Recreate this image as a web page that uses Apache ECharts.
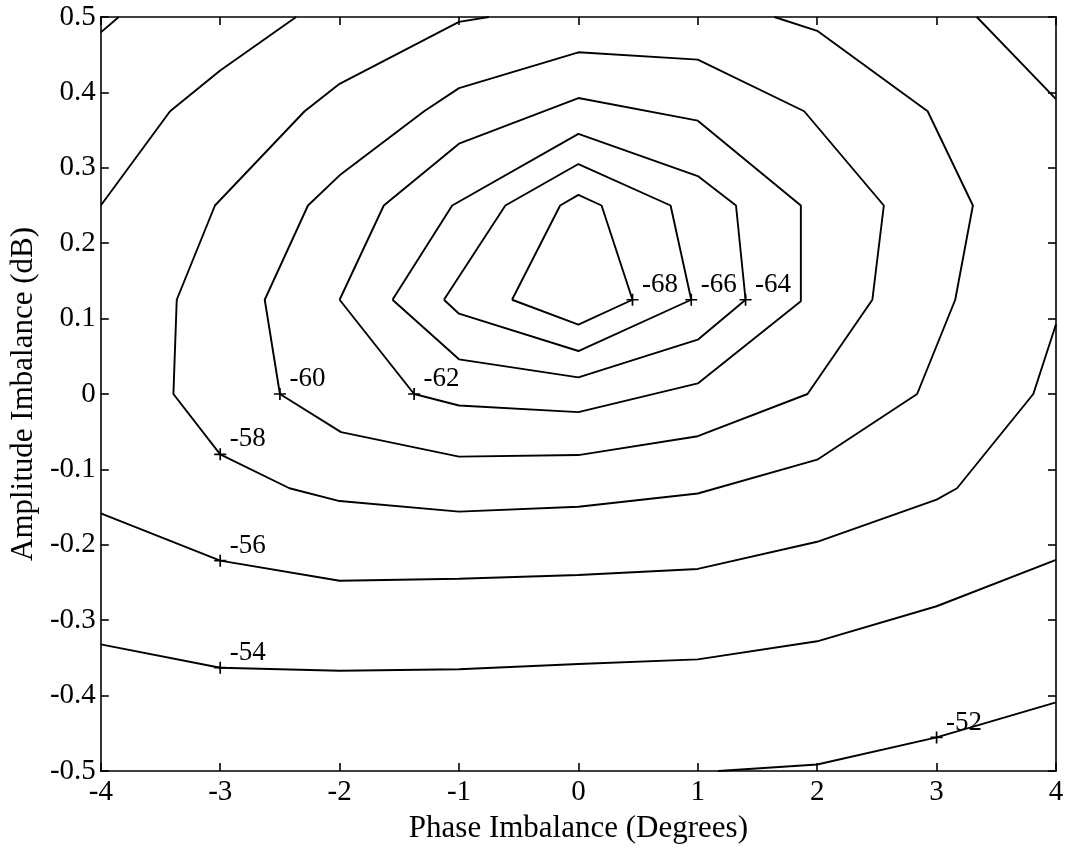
<!DOCTYPE html>
<html>
<head>
<meta charset="utf-8">
<script src="https://cdn.jsdelivr.net/npm/echarts@6/dist/echarts.min.js"></script>
<style>
  html, body { margin: 0; padding: 0; background: #fff; }
  #chart { width: 1068px; height: 849px; }
</style>
</head>
<body>
<div id="chart"></div>
<script>
// Axis ranges and tick spacing
const phaseRange = [-4, 4];
const phaseStep = 1;
const ampRange = [-0.5, 0.5];
const ampStep = 0.1;

// Contour paths, [phase (deg), amplitude (dB)] vertices, one array per connected line
const c68 = [[-0.556, 0.125], [-0.153, 0.25], [0, 0.264], [0.194, 0.25], [0.453, 0.125], [0, 0.092], [-0.556, 0.125]];
const c66 = [[-1.126, 0.125], [-0.612, 0.25], [0, 0.305], [0.772, 0.25], [0.945, 0.125], [0, 0.057], [-1, 0.1065], [-1.126, 0.125]];
const c64 = [[-1.557, 0.125], [-1.057, 0.25], [0, 0.345], [1, 0.289], [1.32, 0.25], [1.40, 0.125], [1, 0.072], [0, 0.022], [-1, 0.046], [-1.557, 0.125]];
const c62 = [[-2, 0.125], [-1.63, 0.25], [-1, 0.332], [0, 0.3925], [1, 0.3625], [1.863, 0.25], [1.863, 0.123], [1, 0.014], [0, -0.024], [-1, -0.0153], [-1.376, 0], [-2, 0.125]];
const c60 = [[-2.5, 0], [-2.627, 0.125], [-2.265, 0.25], [-2, 0.29], [-1.292, 0.375], [-1, 0.4057], [0, 0.4532], [1, 0.4435], [1.891, 0.375], [2.558, 0.25], [2.462, 0.125], [1.919, 0], [1, -0.056], [0, -0.081], [-1, -0.083], [-1.988, -0.0505], [-2.5, 0]];
const c58 = [[-0.75, 0.5], [-1, 0.4936], [-2, 0.4114], [-2.293, 0.375], [-3.044, 0.25], [-3.364, 0.125], [-3.392, 0], [-3, -0.08], [-2.42, -0.125], [-2, -0.142], [-1, -0.156], [0, -0.1495], [1, -0.132], [2, -0.0871], [2.837, 0], [3.156, 0.125], [3.304, 0.25], [2.925, 0.375], [2, 0.4817], [1.641, 0.5]];
const c56TopLeft = [[-4, 0.25], [-3.42, 0.375], [-3, 0.429], [-2.364, 0.5]];
const c56TopRight = [[3.337, 0.5], [4, 0.391]];
const c56Bottom = [[-4, -0.1584], [-3, -0.221], [-2, -0.2476], [-1, -0.245], [0, -0.24], [1, -0.232], [2, -0.196], [3, -0.14], [3.171, -0.125], [3.81, 0], [4, 0.0924]];
const c54Corner = [[-4, 0.4796], [-3.85, 0.5]];
const c54Bottom = [[-4, -0.332], [-3, -0.363], [-2, -0.367], [-1, -0.365], [0, -0.358], [1, -0.352], [2, -0.328], [3, -0.2815], [4, -0.2199]];
const c52 = [[1.17, -0.5], [2, -0.4914], [3, -0.4555], [4, -0.409]];

// Contour levels (dB) and the lines belonging to each
const levels = [-68, -66, -64, -62, -60, -58, -56, -54, -52];
const levelPaths = [[c68], [c66], [c64], [c62], [c60], [c58], [c56TopLeft, c56TopRight, c56Bottom], [c54Corner, c54Bottom], [c52]];

// Inline level labels: [level, path, vertex index]
const contourLabels = [
  [-68, c68, 4], [-66, c66, 4], [-64, c64, 5], [-62, c62, 10], [-60, c60, 0],
  [-58, c58, 7], [-56, c56Bottom, 1], [-54, c54Bottom, 1], [-52, c52, 2]
];

const FONT = "'Liberation Serif', 'Times New Roman', serif";
const chart = echarts.init(document.getElementById('chart'), null, { renderer: 'canvas' });

const frameLine = { show: true, onZero: false, lineStyle: { color: '#000', width: 1.6 } };
const innerTick = { show: true, inside: true, length: 8, lineStyle: { color: '#000', width: 1.6 } };

function xAxisDef(pos, withLabels) {
  return {
    type: 'value', position: pos, min: phaseRange[0], max: phaseRange[1], interval: phaseStep,
    axisLine: frameLine, axisTick: innerTick, splitLine: { show: false },
    axisLabel: { show: withLabels, color: '#000', fontFamily: FONT, fontSize: 29, margin: 7 },
    name: withLabels ? 'Phase Imbalance (Degrees)' : '', nameLocation: 'middle', nameGap: 42,
    nameTextStyle: { color: '#000', fontFamily: FONT, fontSize: 31 }
  };
}
function yAxisDef(pos, withLabels) {
  return {
    type: 'value', position: pos, min: ampRange[0], max: ampRange[1], interval: ampStep,
    axisLine: frameLine, axisTick: innerTick, splitLine: { show: false },
    axisLabel: { show: withLabels, color: '#000', fontFamily: FONT, fontSize: 29, margin: 5 },
    name: withLabels ? 'Amplitude Imbalance (dB)' : '', nameLocation: 'middle', nameGap: 58, nameRotate: 90,
    nameTextStyle: { color: '#000', fontFamily: FONT, fontSize: 31 }
  };
}

const series = [];
levels.forEach((lvl, i) => {
  levelPaths[i].forEach(path => {
    series.push({
      type: 'line', name: String(lvl), data: path, showSymbol: false, symbol: 'none',
      lineStyle: { color: '#000', width: 1.9 }, clip: true, silent: true, animation: false
    });
  });
});

contourLabels.forEach(([lvl, path, idx]) => {
  series.push({
    type: 'scatter', data: [path[idx]],
    symbol: 'path://M0,6H12M6,0V12', symbolSize: 12,
    itemStyle: { color: 'none', borderColor: '#000', borderWidth: 1.7, opacity: 1 },
    label: {
      show: true, position: 'right', distance: 1, offset: [0, -15],
      formatter: String(lvl), color: '#000', opacity: 1, textBorderWidth: 0,
      fontFamily: FONT, fontSize: 27
    },
    silent: true, animation: false, z: 5
  });
});

chart.setOption({
  backgroundColor: '#fff',
  animation: false,
  grid: { left: 97, right: 12, top: 17, bottom: 74, containLabel: false },
  xAxis: [xAxisDef('bottom', true), xAxisDef('top', false)],
  yAxis: [yAxisDef('left', true), yAxisDef('right', false)],
  series: series
});
</script>
</body>
</html>
